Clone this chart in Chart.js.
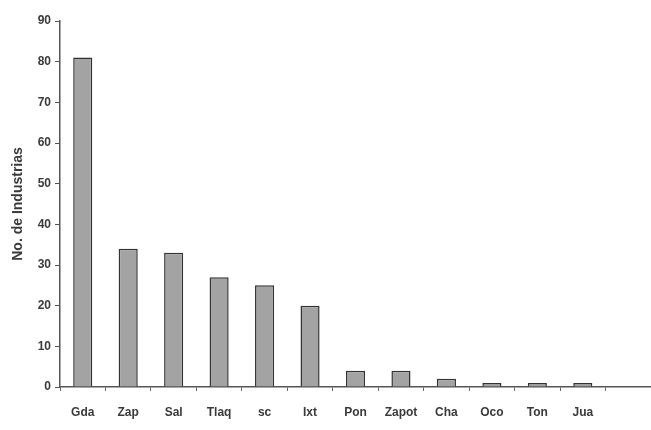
<!DOCTYPE html>
<html>
<head>
<meta charset="utf-8">
<script src="https://cdn.jsdelivr.net/npm/chart.js@4"></script>
<style>
  html, body { margin: 0; padding: 0; background: #fff; }
  #wrap { width: 651px; height: 430px; }
</style>
</head>
<body>
<div id="wrap"><canvas id="chart" width="651" height="430"></canvas></div>
<script>
// municipios (last slot left empty, the axis runs on past Jua)
const categories = ['Gda', 'Zap', 'Sal', 'Tlaq', 'sc', 'Ixt', 'Pon', 'Zapot', 'Cha', 'Oco', 'Ton', 'Jua', ''];
const industrias = [81, 34, 33, 27, 25, 20, 4, 4, 2, 1, 1, 1, null];
const yTicks = [0, 10, 20, 30, 40, 50, 60, 70, 80, 90];

const ink = '#3a3a3a';
const tickFont = { family: 'Liberation Sans, Arial, sans-serif', size: 12, weight: 'bold' };

new Chart(document.getElementById('chart'), {
    type: 'bar',
    data: {
        labels: categories,
        datasets: [{
            data: industrias,
            backgroundColor: '#a3a3a3',
            borderColor: '#333',
            borderWidth: 1.5,
            barPercentage: 0.42,
            categoryPercentage: 1
        }]
    },
    options: {
        responsive: false,
        animation: false,
        layout: { padding: { top: 21, right: 0, left: 10, bottom: 0 } },
        plugins: { legend: { display: false }, tooltip: { enabled: false } },
        scales: {
            x: {
                grid: { drawOnChartArea: false, tickLength: 4, color: '#666' },
                border: { color: '#555', width: 1.5 },
                ticks: { color: ink, font: tickFont, padding: 14, maxRotation: 0, autoSkip: false },
                afterFit: s => { s.height = 43; }
            },
            y: {
                min: 0,
                max: 90,
                afterBuildTicks: s => { s.ticks = yTicks.map(v => ({ value: v })); },
                grid: { drawOnChartArea: false, tickLength: 5, color: '#555' },
                border: { color: '#555', width: 1.5 },
                ticks: { color: ink, font: tickFont, padding: 4 },
                title: {
                    display: true,
                    text: 'No. de Industrias',
                    color: ink,
                    font: { family: 'Liberation Sans, Arial, sans-serif', size: 14, weight: 'bold' },
                    padding: 0
                },
                afterFit: s => { s.width = 50; }
            }
        }
    }
});
</script>
</body>
</html>
